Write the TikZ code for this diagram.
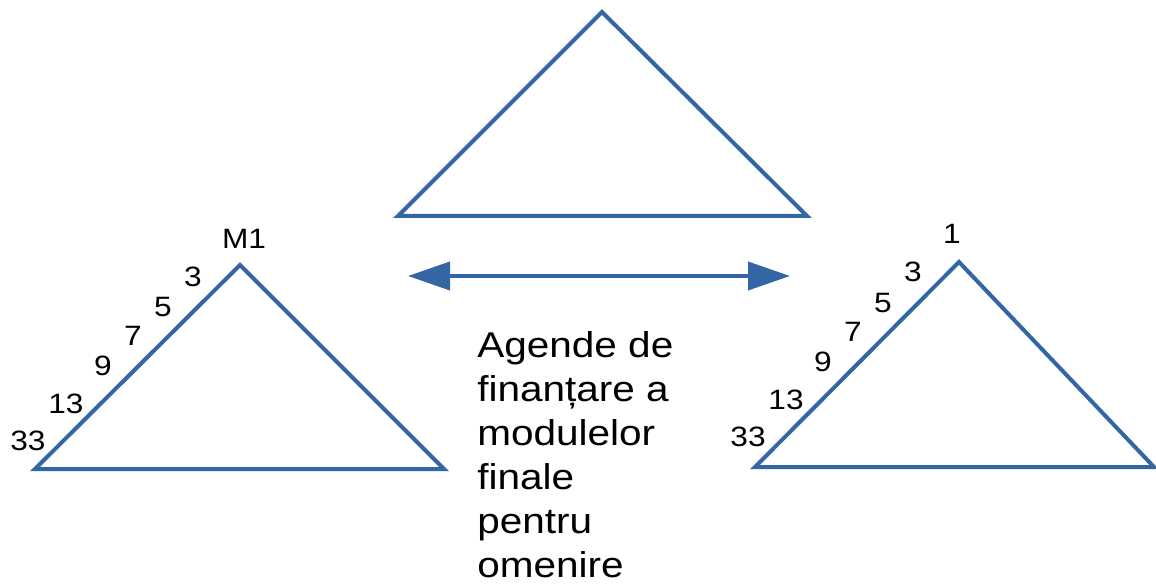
\documentclass[tikz,border=0pt]{standalone}
\usepackage{fontspec}
\setmainfont{Liberation Sans}
\usetikzlibrary{arrows.meta}
\definecolor{triblue}{RGB}{52,101,164}

\begin{document}
\begin{tikzpicture}[
					x=0.75pt,y=-0.75pt,
					tri/.style={draw=triblue,line width=3pt,line join=miter},
					arr/.style={draw=triblue,line width=3pt,{Triangle[length=31.5pt,width=21pt]}-{Triangle[length=31.5pt,width=21pt]}},
					lbl/.style={inner sep=0pt,font=\fontsize{21}{25}\selectfont,xscale=1.13,transform shape},
					txt/.style={inner sep=0pt,align=left,font=\fontsize{26.9}{33}\selectfont,xscale=1.13,transform shape}
					]
					\useasboundingbox (0,0) rectangle (1156,584);
					% triangles
					\draw[tri] (602,12) coordinate (ta) -- (807,216) coordinate (tr) -- (398,216) coordinate (tl) -- cycle;
					\draw[tri] (240,265) coordinate (la) -- (444,469) coordinate (lr) -- (35,469) coordinate (ll) -- cycle;
					\draw[tri] (959,262) coordinate (ra) -- (1154,467) coordinate (rr) -- (755,467) coordinate (rl) -- cycle;
					% labels on the left sides
					\node[lbl] (lm) at (244,239) {M1};
					\foreach \q/\x/\y in {3/193/277,5/163/307,7/133/336,9/103/366,13/66/404,33/28/441}{
						\node[lbl] (l\q) at (\x,\y) {\q};
					}
					\node[lbl] (r1) at (952,234) {1};
					\foreach \q/\x/\y in {3/913/272,5/883/303,7/853/332,9/823/362,13/786/400,33/748/437}{
						\node[lbl] (r\q) at (\x,\y) {\q};
					}
					% double arrow
					\coordinate (al) at (408,276);
					\coordinate (ar) at (790,276);
					\draw[arr] (al) -- (ar);
					\node[txt,anchor=north west] (agenda) at (477,331) {Agende de\\finanțare a\\modulelor\\finale\\pentru\\omenire};
				\end{tikzpicture}
\end{document}
